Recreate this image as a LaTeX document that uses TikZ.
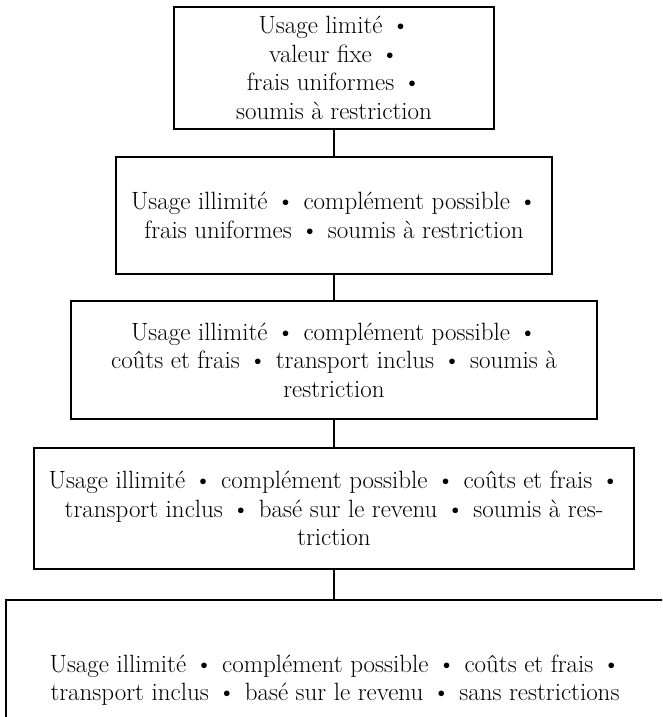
\documentclass[tikz,border=0pt]{standalone}
\newcommand{\bul}{\hspace{0.36em}\textbullet\hspace{0.36em}}
\begin{document}
\begin{tikzpicture}[x=1pt,y=-1pt,
  box/.style={draw, line width=1.3pt, inner sep=0pt, align=center,
    font=\fontsize{25}{28.5}\selectfont},
  link/.style={draw, line width=1.1pt}]
\useasboundingbox (0,0) rectangle (662,717);
\clip (0,0) rectangle (662,717);
\node[box, minimum width=320pt, minimum height=122pt] (b1) at (334,68)
  {Usage limité\bul\\ valeur fixe\bul\\ frais uniformes\bul\\ soumis à restriction};
\node[box, minimum width=436pt, minimum height=117pt] (b2) at (334,215.5)
  {Usage illimité\bul complément possible\bul\\ frais uniformes\bul soumis à restriction};
\node[box, minimum width=526pt, minimum height=118pt] (b3) at (334,360)
  {Usage illimité\bul complément possible\bul\\ coûts et frais\bul transport inclus\bul soumis à\\ restriction};
\node[box, minimum width=600pt, minimum height=121pt] (b4) at (334,508.5)
  {Usage illimité\bul complément possible\bul coûts et frais\bul\\ transport inclus\bul basé sur le revenu\bul soumis à res-\\ triction};
\node[box, minimum width=658pt, minimum height=160pt] (b5) at (335,680)
  {Usage illimité\bul complément possible\bul coûts et frais\bul\\ transport inclus\bul basé sur le revenu\bul sans restrictions};
\draw[link] (b1.south) -- (b2.north);
\draw[link] (b2.south) -- (b3.north);
\draw[link] (b3.south) -- (b4.north);
\draw[link] (b4.south) -- (b4.south |- b5.north);
\end{tikzpicture}
\end{document}
